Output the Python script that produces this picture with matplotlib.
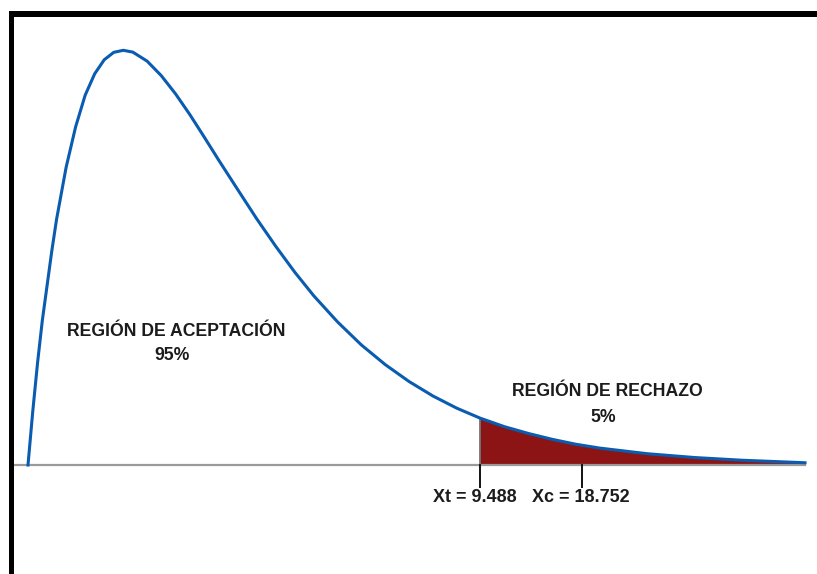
import matplotlib.pyplot as plt
from matplotlib.patches import Rectangle
import numpy as np

# chi-square curve, values
x_vals = [0.0, 0.1, 0.2, 0.3, 0.4, 0.5, 0.6, 0.8, 1.0, 1.2,
          1.4, 1.6, 1.8, 2.0, 2.2, 2.5, 2.8, 3.1, 3.4, 3.7,
          4.0, 4.4, 4.8, 5.2, 5.6, 6.0, 6.5, 7.0, 7.5, 8.0,
          8.5, 9.0, 9.488, 10.0, 10.5, 11.0, 11.5, 12.0, 13.0, 14.0,
          15.0, 16.31]
y_vals = [0.0, 0.0238, 0.0452, 0.0640, 0.0795, 0.0950, 0.1090, 0.1320, 0.1500, 0.1640,
          0.1735, 0.1797, 0.1830, 0.1839, 0.1831, 0.1791, 0.1726, 0.1645, 0.1553, 0.1454,
          0.1353, 0.1222, 0.1092, 0.0970, 0.0855, 0.0750, 0.0634, 0.0532, 0.0445, 0.0370,
          0.0306, 0.0252, 0.0208, 0.0170, 0.0140, 0.0114, 0.0092, 0.0075, 0.0050, 0.0033,
          0.0021, 0.0010]

xt = 9.488          # critical value (tabla)
xc_label = 18.752   # calculated value
xc_mark = 11.63     # where the Xc tick is drawn (schematic)

acc_label = "REGIÓN DE ACEPTACIÓN"
acc_pct = "95%"
rej_label = "REGIÓN DE RECHAZO"
rej_pct = "5%"

W, H = 817, 574
fig = plt.figure(figsize=(W / 100, H / 100), dpi=100)
ax = fig.add_axes([0, 0, 1, 1])
ax.set_xlim(-28 / 47.64, (W - 28) / 47.64)
ax.set_ylim(-(H - 465) / 2255, 465 / 2255)
ax.axis("off")

x = np.array(x_vals)
y = np.array(y_vals)

# rejection region
mask = x >= xt
ax.fill_between(x[mask], 0, y[mask], color="#8c1414", lw=0, zorder=1)
ax.plot([xt, xt], [0, y[mask][0]], color="#666666", lw=1.2, zorder=2)

# baseline
ax.plot([-14 / 47.64, x[-1]], [0, 0], color="#9a9a9a", lw=1.6, zorder=2)

# curve
ax.plot(x, y, color="#0a5cb0", lw=2.2, solid_joinstyle="round", zorder=3)

# ticks below the baseline
tick_len = 22 / 2255
for xv in [xt, xc_mark]:
    ax.plot([xv, xv], [0, -tick_len], color="#111111", lw=1.4, zorder=2)

font = dict(family=["Liberation Sans", "DejaVu Sans"], fontweight="bold",
            color="#1c1c1c", ha="center", va="center",
            transform=ax.transAxes)
ax.text(176 / W, 1 - 332 / H, acc_label, fontsize=12.7, **font)
ax.text(172 / W, 1 - 355 / H, acc_pct, fontsize=12.7, **font)
ax.text(607 / W, 1 - 392 / H, rej_label, fontsize=12.7, **font)
ax.text(603 / W, 1 - 417 / H, rej_pct, fontsize=12.7, **font)
ax.text(475 / W, 1 - 498 / H, "Xt = {}".format(xt), fontsize=13, **font)
ax.text(581 / W, 1 - 498 / H, "Xc = {}".format(xc_label), fontsize=13, **font)

# black frame (left and top)
fig.add_artist(Rectangle((8.5 / W, 0), 5.5 / W, (H - 11) / H,
                         transform=fig.transFigure, color="black", lw=0))
fig.add_artist(Rectangle((8.5 / W, (H - 16.7) / H), 1, 5.7 / H,
                         transform=fig.transFigure, color="black", lw=0))

fig.savefig("out.png", dpi=100, facecolor="white")
